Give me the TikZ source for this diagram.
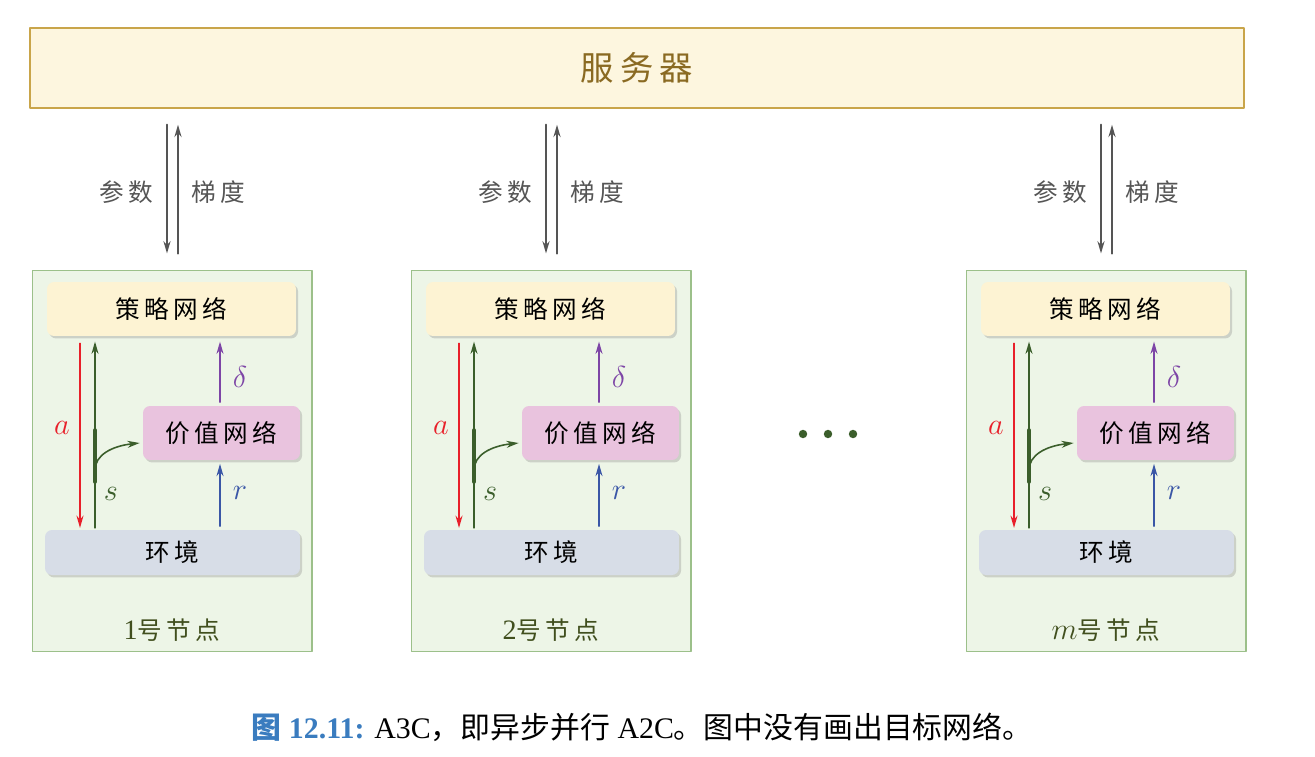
\documentclass[tikz,border=0pt]{standalone}
\usepackage{fontspec}
\setmainfont{Liberation Serif}
\newfontfamily\cjk[LetterSpace=18]{Noto Sans CJK SC}
\newfontfamily\cjkcap{Noto Sans CJK SC}
\usetikzlibrary{calc,arrows.meta,shadows}
\definecolor{ServerFill}{HTML}{FDF6DF}
\definecolor{ServerLine}{HTML}{C9A54A}
\definecolor{ServerText}{HTML}{8A6A22}
\definecolor{NodeFill}{HTML}{EDF5E7}
\definecolor{NodeLine}{HTML}{9CC08A}
\definecolor{PolicyFill}{HTML}{FDF3D3}
\definecolor{ValueFill}{HTML}{E9C3DE}
\definecolor{EnvFill}{HTML}{D7DDE7}
\definecolor{ArrowGray}{HTML}{555555}
\definecolor{ActRed}{HTML}{E8202A}
\definecolor{StateGreen}{HTML}{3B5E2B}
\definecolor{TdPurple}{HTML}{7D45A6}
\definecolor{RewBlue}{HTML}{3A56A6}
\definecolor{LabelOlive}{HTML}{414F1E}
\definecolor{CapBlue}{HTML}{3A7CBF}

\begin{document}
\begin{tikzpicture}[
  x=0.02cm, y=-0.02cm,
  line cap=round, line join=round,
  >={Stealth[length=7pt,width=4pt]},
  netbox/.style={rounded corners=4pt, inner sep=0pt, font=\cjk\fontsize{14}{16}\selectfont,
    drop shadow={opacity=0.3, shadow xshift=1.2pt, shadow yshift=-1.4pt}},
  nodebox/.style={draw=NodeLine, fill=NodeFill, line width=0.6pt,
    minimum width=5.6cm, minimum height=7.64cm},
  flow/.style={line width=0.9pt, ->},
  pipe/.style={ArrowGray, line width=1.3pt, ->, shorten >=0.32cm, shorten <=0.32cm},
  sym/.style={font=\fontsize{17}{19}\selectfont}
]

% Bounding box
\useasboundingbox (0,0) rectangle (1315,757);

% === Server ===
\node[draw=ServerLine, fill=ServerFill, line width=0.8pt,
  minimum width=24.28cm, minimum height=1.6cm,
  font=\cjk\fontsize{19}{22}\selectfont, text=ServerText] (srv) at (637,68) {服务器};

% === Worker nodes ===
\foreach \dx/\k/\num in {0/1/1, 379/2/2, 934/m/{$m$}} {
  % container
  \node[nodebox] (box\k) at (172+\dx,461) {};
  \node[font=\cjk\fontsize{14}{16}\selectfont, text=LabelOlive] (cap\k) at (172+\dx,630)
    {{\rmfamily\fontsize{16}{18}\selectfont\num}号节点};

  % networks and environment
  \node[netbox, fill=PolicyFill, minimum width=4.98cm, minimum height=1.08cm] (pol\k) at (171.5+\dx,309) {策略网络};
  \node[netbox, fill=ValueFill, minimum width=3.14cm, minimum height=1.08cm] (val\k) at (221.5+\dx,433) {价值网络};
  \node[netbox, fill=EnvFill, minimum width=5.1cm, minimum height=0.9cm] (env\k) at (172.5+\dx,552.5) {环境};

  % parameters down, gradients up
  \coordinate (dn\k) at (167+\dx,0);
  \coordinate (up\k) at (178+\dx,0);
  \draw[pipe] (srv.south -| dn\k) -- (box\k.north -| dn\k);
  \draw[pipe] (box\k.north -| up\k) -- (srv.south -| up\k);
  \node[anchor=east, font=\cjk\fontsize{14}{16}\selectfont, text=ArrowGray] (par\k) at (159+\dx,192) {参数};
  \node[anchor=west, font=\cjk\fontsize{14}{16}\selectfont, text=ArrowGray] (grd\k) at (185+\dx,192) {梯度};

  % action a
  \coordinate (ax\k) at (80+\dx,0);
  \draw[flow, ActRed, shorten <=4pt, shorten >=1pt] (pol\k.south -| ax\k) -- (env\k.north -| ax\k);
  \node[sym, text=ActRed] (a\k) at (62+\dx,428) {$a$};

  % state s
  \coordinate (sx\k) at (95+\dx,0);
  \draw[flow, StateGreen, shorten <=1pt, shorten >=3pt] (env\k.north -| sx\k) -- (pol\k.south -| sx\k);
  \draw[StateGreen, line width=2pt] (95+\dx,430) -- (95+\dx,482);
  \draw[flow, StateGreen] (95+\dx,470) .. controls (95+\dx,455) and (112+\dx,446) .. ($(val\k.west)+(-3,10)$);
  \node[sym, text=StateGreen] (s\k) at (111+\dx,494) {$s$};

  % TD error delta
  \coordinate (rx\k) at (220+\dx,0);
  \draw[flow, TdPurple, shorten <=2pt, shorten >=3pt] (val\k.north -| rx\k) -- (pol\k.south -| rx\k);
  \node[sym, text=TdPurple] (d\k) at (240+\dx,377) {$\delta$};

  % reward r
  \draw[flow, RewBlue, shorten <=2pt, shorten >=2pt] (env\k.north -| rx\k) -- (val\k.south -| rx\k);
  \node[sym, text=RewBlue] (r\k) at (240+\dx,493) {$r$};
}

% === Dots between workers ===
\foreach \x in {803,828,853} {
  \fill[StateGreen] (\x,434) circle (2.4pt);
}

% === Caption ===
\node[font=\fontsize{17}{20}\selectfont] (cap) at (642,727)
  {{\color{CapBlue}\bfseries{\cjkcap 图} 12.11:} A3C{\cjkcap ，即异步并行} A2C{\cjkcap 。图中没有画出目标网络。}};

\end{tikzpicture}
\end{document}
